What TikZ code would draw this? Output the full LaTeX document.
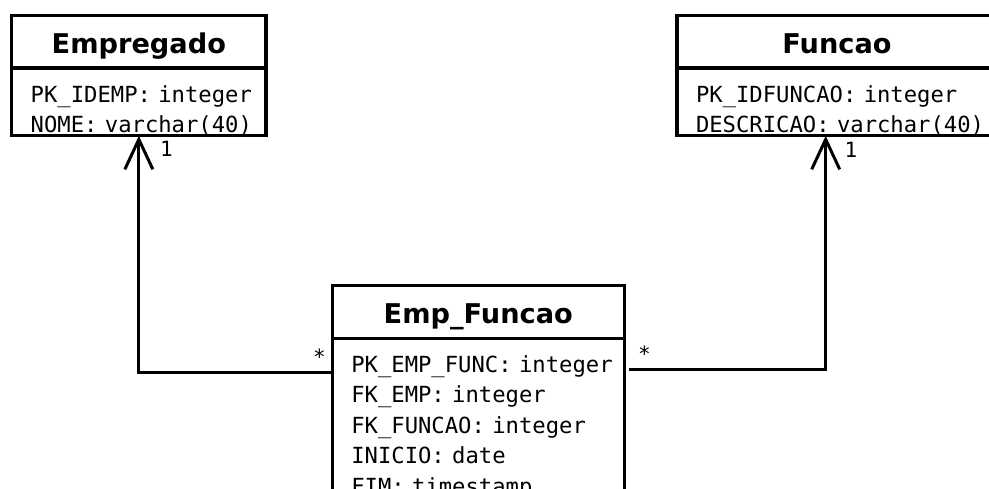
\documentclass[tikz,border=0pt]{standalone}
\usepackage{fontspec}
\newfontfamily\umlsans{DejaVu Sans}
\newfontfamily\umlmono{DejaVu Sans Mono}
\usetikzlibrary{arrows.meta,positioning}

\begin{document}
\begin{tikzpicture}[x=1pt,y=-1pt,
  classname/.style={draw,line width=3.2pt,outer sep=0pt,inner sep=0pt,minimum width=#1,
    font=\umlsans\bfseries\fontsize{27.2}{32}\selectfont,text height=37.8pt,text depth=14.7pt},
  classattr/.style={draw,line width=3.2pt,outer sep=0pt,inner xsep=0pt,inner ysep=0pt,
    text width=#1,align=left,text height=34pt,font=\umlmono\fontsize{22.2}{30.5}\selectfont,
    execute at begin node={\leftskip=19pt\relax\fontdimen2\font=0.602em\relax
      \fontdimen3\font=0pt\relax\fontdimen4\font=0pt\relax}},
  assoc/.style={line width=3pt,-{Straight Barb[length=30pt,width=28pt]}},
  mult/.style={font=\umlmono\fontsize{21}{24}\selectfont,inner sep=0pt}]
  \clip (0,0) rectangle (989,488);
  % Empregado
  \node[classname=254.3pt,anchor=north west] (emp) at (11.7,15.5) {Empregado};
  \node[classattr=254.3pt,text depth=33.8pt,below=0pt of emp] (empb) {PK\_IDEMP: integer\\NOME: varchar(40)};
  % Funcao
  \node[classname=320pt,anchor=north west] (fun) at (677,15.5) {Funcao};
  \node[classattr=320pt,text depth=33.8pt,below=0pt of fun] (funb) {PK\_IDFUNCAO: integer\\DESCRICAO: varchar(40)};
  % Emp_Funcao
  \node[classname=292pt,anchor=north west] (ef) at (332.3,285.7) {Emp\_Funcao};
  \node[classattr=292pt,text depth=140pt,below=0pt of ef] (efb) {PK\_EMP\_FUNC: integer\\FK\_EMP: integer\\FK\_FUNCAO: integer\\INICIO: date\\FIM: timestamp};
  % associations
  \draw[assoc] ([yshift=-34.7pt]efb.north west) -| (empb.south);
  \draw[assoc,shorten <=5pt] ([yshift=-31.3pt]efb.north east) -| ([xshift=-11.3pt]funb.south);
  \node[mult] (m1) at (166.5,148.5) {1};
  \node[mult] (m2) at (319.5,357) {*};
  \node[mult] (m3) at (851,150) {1};
  \node[mult] (m4) at (644.5,353.5) {*};
\end{tikzpicture}
\end{document}
